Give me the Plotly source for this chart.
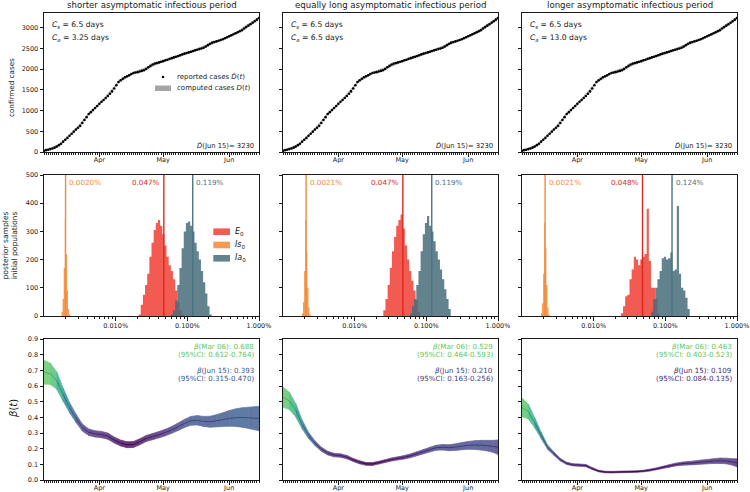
import numpy as np
import pandas as pd
import plotly.graph_objects as go
from plotly.subplots import make_subplots
from plotly.colors import sample_colorscale, unlabel_rgb

FONT = "DejaVu Sans"
W, H = 750, 492
INK = "#1a1a1a"
TICK = 6.5

# ------------------------------------------------------------------ data
panel_titles = ["shorter asymptomatic infectious period",
                "equally long asymptomatic infectious period",
                "longer asymptomatic infectious period"]
cs_days = [6.5, 6.5, 6.5]
ca_days = [3.25, 6.5, 13.0]
final_reported = [3230, 3230, 3230]

case_dates = pd.date_range("2020-03-06", "2020-06-15", freq="D")
reported_cases = [30, 45, 55, 70, 85, 105, 130, 165, 200, 250,
                  295, 340, 390, 440, 490, 540, 585, 630, 700, 770,
                  840, 917, 960, 1010, 1060, 1110, 1160, 1210, 1255, 1300,
                  1350, 1404, 1460, 1530, 1610, 1686, 1730, 1765, 1800, 1825,
                  1850, 1880, 1905, 1915, 1925, 1940, 1955, 1970, 2000, 2040,
                  2075, 2109, 2130, 2145, 2160, 2175, 2190, 2210, 2225, 2245,
                  2262, 2280, 2295, 2312, 2330, 2353, 2370, 2385, 2400, 2415,
                  2433, 2450, 2465, 2480, 2495, 2513, 2540, 2575, 2610, 2635,
                  2650, 2665, 2680, 2700, 2717, 2740, 2765, 2790, 2815, 2838,
                  2862, 2885, 2910, 2935, 2975, 3010, 3045, 3080, 3115, 3150,
                  3190, 3230]
computed_dates = pd.to_datetime(["2020-03-06", "2020-03-13", "2020-03-20", "2020-03-27",
                                 "2020-04-03", "2020-04-10", "2020-04-17", "2020-04-24",
                                 "2020-05-01", "2020-05-08", "2020-05-15", "2020-05-22",
                                 "2020-05-29", "2020-06-05", "2020-06-12", "2020-06-15"])
computed_low = [10, 140, 460, 885, 1225, 1650, 1875, 2010, 2160, 2280, 2400, 2540, 2685, 2850, 3080, 3195]
computed_high = [50, 190, 520, 945, 1290, 1715, 1935, 2070, 2220, 2345, 2465, 2610, 2750, 2920, 3150, 3265]

# initial-population posterior histograms (log10 of percent bin start, counts)
hist_step = 0.03
is0_step = 0.015
e0_log_start = [-1.68, -1.60, -1.62]
ia0_log_start = [-1.23, -1.23, -1.20]
is0_log_start = [-2.755, -2.735, -2.735]
e0_counts_1 = [5, 40, 75, 110, 150, 210, 260, 305, 330, 340, 320, 290, 250, 210, 180, 160, 130, 90, 50, 20, 5]
e0_counts_2 = [20, 60, 110, 170, 230, 280, 320, 340, 360, 310, 250, 200, 160, 125, 90, 55, 15]
e0_counts_3 = [10, 35, 70, 75, 130, 165, 210, 200, 180, 200, 210, 220, 380, 195, 100, 100, 60, 10]
ia0_counts_1 = [5, 20, 55, 110, 170, 240, 300, 330, 335, 320, 300, 260, 230, 200, 160, 120, 80, 35, 5]
ia0_counts_2 = [10, 35, 60, 110, 160, 230, 290, 330, 355, 320, 300, 265, 230, 200, 165, 130, 95, 60, 25]
ia0_counts_3 = [15, 60, 100, 130, 160, 205, 210, 200, 205, 225, 160, 165, 390, 150, 100, 90, 65, 25]
is0_counts_1 = [15, 60, 170, 345, 220, 90, 25, 5]
is0_counts_2 = [10, 50, 160, 340, 230, 100, 30, 5]
is0_counts_3 = [10, 45, 150, 330, 240, 110, 30, 5]
e0_median = [0.047, 0.047, 0.048]
is0_median = [0.0020, 0.0021, 0.0021]
ia0_median = [0.119, 0.119, 0.124]

# beta(t) posterior
beta_dates = list(pd.date_range("2020-03-06", periods=34, freq="3D")) + [pd.Timestamp("2020-06-15")]
beta_med_1 = [0.688, 0.678, 0.635, 0.545, 0.462, 0.395, 0.335, 0.305, 0.294, 0.290, 0.280, 0.255,
              0.236, 0.225, 0.227, 0.244, 0.265, 0.277, 0.289, 0.303, 0.320, 0.340, 0.361, 0.378,
              0.381, 0.374, 0.372, 0.378, 0.385, 0.393, 0.398, 0.399, 0.397, 0.394, 0.393]
beta_lo_1 = [0.612, 0.610, 0.580, 0.503, 0.429, 0.368, 0.312, 0.284, 0.274, 0.270, 0.260, 0.236,
             0.217, 0.206, 0.208, 0.225, 0.246, 0.257, 0.269, 0.282, 0.298, 0.316, 0.335, 0.350,
             0.351, 0.342, 0.337, 0.339, 0.341, 0.343, 0.342, 0.337, 0.329, 0.320, 0.315]
beta_hi_1 = [0.764, 0.746, 0.690, 0.587, 0.495, 0.422, 0.358, 0.326, 0.314, 0.310, 0.300, 0.274,
             0.255, 0.244, 0.246, 0.263, 0.284, 0.297, 0.309, 0.324, 0.342, 0.364, 0.387, 0.406,
             0.411, 0.406, 0.407, 0.417, 0.429, 0.443, 0.454, 0.461, 0.465, 0.468, 0.470]
beta_med_2 = [0.529, 0.505, 0.445, 0.355, 0.285, 0.235, 0.197, 0.172, 0.159, 0.156, 0.146, 0.128,
              0.113, 0.103, 0.102, 0.111, 0.121, 0.131, 0.138, 0.145, 0.155, 0.168, 0.181, 0.194,
              0.206, 0.209, 0.206, 0.210, 0.216, 0.221, 0.223, 0.222, 0.219, 0.214, 0.210]
beta_lo_2 = [0.464, 0.450, 0.403, 0.327, 0.265, 0.220, 0.184, 0.160, 0.148, 0.145, 0.135, 0.118,
             0.103, 0.094, 0.093, 0.102, 0.112, 0.121, 0.128, 0.134, 0.143, 0.155, 0.167, 0.179,
             0.190, 0.191, 0.187, 0.189, 0.193, 0.196, 0.195, 0.191, 0.185, 0.175, 0.163]
beta_hi_2 = [0.593, 0.560, 0.487, 0.383, 0.305, 0.250, 0.210, 0.184, 0.170, 0.167, 0.157, 0.138,
             0.123, 0.112, 0.111, 0.120, 0.130, 0.141, 0.148, 0.156, 0.167, 0.181, 0.195, 0.209,
             0.222, 0.227, 0.225, 0.231, 0.239, 0.246, 0.251, 0.253, 0.253, 0.253, 0.256]
beta_med_3 = [0.463, 0.437, 0.365, 0.285, 0.210, 0.168, 0.130, 0.106, 0.097, 0.095, 0.092, 0.073,
              0.057, 0.051, 0.050, 0.051, 0.052, 0.053, 0.054, 0.057, 0.063, 0.071, 0.080, 0.089,
              0.098, 0.104, 0.107, 0.110, 0.114, 0.117, 0.121, 0.123, 0.121, 0.115, 0.109]
beta_lo_3 = [0.403, 0.390, 0.333, 0.265, 0.196, 0.158, 0.122, 0.099, 0.090, 0.088, 0.085, 0.067,
             0.052, 0.046, 0.045, 0.046, 0.047, 0.048, 0.049, 0.052, 0.057, 0.065, 0.073, 0.081,
             0.089, 0.094, 0.096, 0.098, 0.101, 0.103, 0.106, 0.106, 0.103, 0.094, 0.084]
beta_hi_3 = [0.523, 0.484, 0.397, 0.305, 0.224, 0.178, 0.138, 0.113, 0.104, 0.102, 0.099, 0.079,
             0.062, 0.056, 0.055, 0.056, 0.057, 0.058, 0.059, 0.062, 0.069, 0.077, 0.087, 0.097,
             0.107, 0.114, 0.118, 0.122, 0.127, 0.131, 0.136, 0.140, 0.139, 0.136, 0.135]

month_ticks = ["2020-04-01", "2020-05-01", "2020-06-01"]
month_labels = ["Apr", "May", "Jun"]
pct_ticks = [0.01, 0.1, 1]
pct_labels = ["0.010%", "0.100%", "1.000%"]

# ------------------------------------------------------------------ styles
E0_FILL, E0_LINE = "rgba(238,62,50,0.85)", "#e0261c"
IS0_FILL, IS0_LINE = "rgba(245,135,50,0.85)", "#f28a3a"
IA0_FILL, IA0_LINE = "rgba(70,108,122,0.85)", "#4a7483"

col_left = [44, 283, 522]
col_w = 215
row_top = [13, 175, 339]
row_h = [139, 141, 141]

fig = make_subplots(rows=3, cols=3)


def idx(r, c):
    return (r - 1) * 3 + c


def xr(i):
    return "x" if i == 1 else f"x{i}"


def yr(i):
    return "y" if i == 1 else f"y{i}"


def dom(r, c, px, py):
    # px is measured within column-1 frame (local offset from col_left[0])
    return (px - 44) / col_w, 1 - (py - row_top[r - 1]) / row_h[r - 1]


def text_ann(r, c, px, py, text, size, color, xanchor, yanchor="middle"):
    i = idx(r, c)
    x, y = dom(r, c, px, py)
    fig.add_annotation(xref=f"{xr(i)} domain", yref=f"{yr(i)} domain", x=x, y=y,
                       text=text, showarrow=False, xanchor=xanchor, yanchor=yanchor,
                       font=dict(family=FONT, size=size, color=color))


def viridis(t):
    return unlabel_rgb(sample_colorscale("Viridis", [min(max(t, 0), 1)])[0])


def rgb(c):
    return "rgb(%d,%d,%d)" % tuple(int(round(v)) for v in c)


# ------------------------------------------------------------------ row 1
for c in range(1, 4):
    fig.add_trace(go.Scatter(
        x=list(computed_dates) + list(computed_dates[::-1]),
        y=computed_high + computed_low[::-1], fill="toself",
        fillcolor="rgba(140,140,140,0.6)", line=dict(width=0), mode="lines",
        hoverinfo="skip"), row=1, col=c)
    fig.add_trace(go.Scatter(x=case_dates, y=reported_cases, mode="markers",
                             marker=dict(color="black", size=2.6)), row=1, col=c)
    text_ann(1, c, 50, 25, f"<i>C<sub>s</sub></i> = {cs_days[c-1]} days", 7.6, INK, "left")
    text_ann(1, c, 50, 38.3, f"<i>C<sub>a</sub></i> = {ca_days[c-1]} days", 7.6, INK, "left")
    text_ann(1, c, 256, 145.5, f"<i>D\u0302</i>(Jun 15)= {final_reported[c-1]}", 6.8, INK, "right")
    fig.add_annotation(xref="paper", yref="paper", x=(col_left[c-1] + col_w / 2) / W,
                       y=1 - 5 / H, text=panel_titles[c-1], showarrow=False,
                       font=dict(family=FONT, size=8.6, color=INK), xanchor="center", yanchor="middle")

# legend of row 1 (panel 1)
x0, y0 = dom(1, 1, 161.7, 75.7)
x1, y1 = dom(1, 1, 164.3, 78.3)
fig.add_shape(type="circle", xref="x domain", yref="y domain", x0=x0, x1=x1, y0=y1, y1=y0,
              fillcolor="black", line_width=0)
x0, y0 = dom(1, 1, 155, 85.5)
x1, y1 = dom(1, 1, 171, 91)
fig.add_shape(type="rect", xref="x domain", yref="y domain", x0=x0, x1=x1, y0=y1, y1=y0,
              fillcolor="#a6a6a6", line_width=0)
text_ann(1, 1, 175, 77, "reported cases <i>D\u0302</i>(<i>t</i>)", 7.0, INK, "left")
text_ann(1, 1, 175, 88.3, "computed cases <i>D</i>(<i>t</i>)", 7.0, INK, "left")


# ------------------------------------------------------------------ row 2
def step_xy(log_start, step, counts):
    edges = 10 ** (log_start + step * np.arange(len(counts) + 1))
    x = np.concatenate([[edges[0]], edges[:-1], [edges[-1]]])
    y = [0] + list(counts) + [0]
    return x, y


e0_all = [e0_counts_1, e0_counts_2, e0_counts_3]
ia0_all = [ia0_counts_1, ia0_counts_2, ia0_counts_3]
is0_all = [is0_counts_1, is0_counts_2, is0_counts_3]
for c in range(1, 4):
    for start, step, counts, fc in [(e0_log_start[c-1], hist_step, e0_all[c-1], E0_FILL),
                                     (is0_log_start[c-1], is0_step, is0_all[c-1], IS0_FILL),
                                     (ia0_log_start[c-1], hist_step, ia0_all[c-1], IA0_FILL)]:
        hx, hy = step_xy(start, step, counts)
        fig.add_trace(go.Scatter(x=hx, y=hy, mode="lines", line=dict(width=0, shape="hv"),
                                 fill="toself", fillcolor=fc), row=2, col=c)
    i = idx(2, c)
    for med, lc, side in [(e0_median[c-1], E0_LINE, "right"),
                          (is0_median[c-1], IS0_LINE, "left"),
                          (ia0_median[c-1], IA0_LINE, "left")]:
        fig.add_trace(go.Scatter(x=[med, med], y=[0, 500], mode="lines",
                                 line=dict(color=lc, width=1.4)), row=2, col=c)
        label = f"{med:.4f}%" if med < 0.01 else f"{med:.3f}%"
        fig.add_annotation(xref=xr(i), yref=f"{yr(i)} domain", x=np.log10(med),
                           y=dom(2, c, 0, 182.7)[1], text=label, showarrow=False,
                           xanchor="left" if side == "left" else "right",
                           xshift=1.5 if side == "left" else -1.5, yanchor="middle",
                           font=dict(family=FONT, size=7.2, color=lc))

# legend of row 2 (panel 1)
for py, fc, lab in [(231.7, E0_FILL, "<i>E</i><sub>0</sub>"),
                    (245.0, IS0_FILL, "<i>Is</i><sub>0</sub>"),
                    (258.3, IA0_FILL, "<i>Ia</i><sub>0</sub>")]:
    x0, y0 = dom(2, 1, 213.3, py - 3.3)
    x1, y1 = dom(2, 1, 230, py + 3.3)
    fig.add_shape(type="rect", xref="x4 domain", yref="y4 domain", x0=x0, x1=x1, y0=y1, y1=y0,
                  fillcolor=fc, line_width=0)
    text_ann(2, 1, 233, py, lab, 8.0, INK, "left")

# ------------------------------------------------------------------ row 3
beta_sets = [(beta_med_1, beta_lo_1, beta_hi_1), (beta_med_2, beta_lo_2, beta_hi_2),
             (beta_med_3, beta_lo_3, beta_hi_3)]
for c in range(1, 4):
    med, lo, hi = beta_sets[c-1]
    mmin, mmax = min(med), max(med)

    def tval(v):
        return 0.75 * (v - mmin) / (mmax - mmin)

    n = len(beta_dates)
    for k in range(n - 1):
        col = viridis(tval((med[k] + med[k + 1]) / 2))
        band = tuple(255 * 0.2 + v * 0.8 for v in col)
        fig.add_trace(go.Scatter(
            x=[beta_dates[k], beta_dates[k + 1], beta_dates[k + 1], beta_dates[k], beta_dates[k]],
            y=[hi[k], hi[k + 1], lo[k + 1], lo[k], hi[k]], mode="lines", fill="toself",
            fillcolor=rgb(band), line=dict(width=0.7, color=rgb(band))), row=3, col=c)
    for k in range(n - 1):
        col = viridis(tval((med[k] + med[k + 1]) / 2))
        dark = tuple(v * 0.85 for v in col)
        fig.add_trace(go.Scatter(x=[beta_dates[k], beta_dates[k + 1]], y=[med[k], med[k + 1]],
                                 mode="lines", line=dict(width=0.9, color=rgb(dark))),
                      row=3, col=c)
    c_start = rgb(viridis(tval(med[0])))
    c_end = rgb(viridis(tval(med[-1])))
    text_ann(3, c, 256, 346, f"<i>β</i>(Mar 06): {med[0]:.3f}", 7.1, c_start, "right")
    text_ann(3, c, 256, 354.5, f"(95%CI: {lo[0]:.3f}-{hi[0]:.3f})", 7.1, c_start, "right")
    text_ann(3, c, 256, 370, f"<i>β</i>(Jun 15): {med[-1]:.3f}", 7.1, c_end, "right")
    text_ann(3, c, 256, 378.5, f"(95%CI: {lo[-1]:.3f}-{hi[-1]:.3f})", 7.1, c_end, "right")

# ------------------------------------------------------------------ axes
common = dict(showline=True, mirror=True, linecolor=INK, linewidth=1, ticks="outside",
              ticklen=3.5, tickwidth=0.9, tickcolor=INK, showgrid=False, zeroline=False,
              automargin=False, tickfont=dict(family=FONT, size=TICK, color=INK))
minor_log = [m * 10.0 ** e for e in (-3, -2, -1) for m in range(2, 10)]
for r in range(1, 4):
    for c in range(1, 4):
        i = idx(r, c)
        xa = "xaxis" if i == 1 else f"xaxis{i}"
        ya = "yaxis" if i == 1 else f"yaxis{i}"
        xd = [col_left[c-1] / W, (col_left[c-1] + col_w) / W]
        yd = [1 - (row_top[r-1] + row_h[r-1]) / H, 1 - row_top[r-1] / H]
        if r == 2:
            xspec = dict(common, type="log", range=[-3, 0], tickvals=pct_ticks, ticktext=pct_labels,
                         minor=dict(tickmode="array", tickvals=minor_log, ticks="outside",
                                    ticklen=2, tickwidth=0.7, tickcolor=INK))
        else:
            xspec = dict(common, type="date", range=["2020-03-06", "2020-06-15"],
                         tickvals=month_ticks, ticktext=month_labels, ticklabelstandoff=-2,
                         minor=dict(ticks="outside", ticklen=2, tickwidth=0.6, tickcolor=INK,
                                    dtick=86400000.0, tick0="2020-03-06"))
        if r == 1:
            yspec = dict(common, range=[0, 3350], tickvals=list(range(0, 3001, 500)))
        elif r == 2:
            yspec = dict(common, range=[0, 500], tickvals=list(range(0, 501, 100)))
        else:
            yspec = dict(common, range=[0, 0.9], tickvals=[k / 10 for k in range(10)],
                         tickformat=".1f")
        yspec["showticklabels"] = (c == 1)
        fig.update_layout({xa: dict(xspec, domain=xd), ya: dict(yspec, domain=yd)})

# y-axis labels
for py, px, text, size in [(88, 12, "confirmed cases", 7.2),
                           (245.5, 10, "posterior samples<br>initial populations", 7.6),
                           (409, 13, "<i>β</i>(<i>t</i>)", 10)]:
    fig.add_annotation(xref="paper", yref="paper", x=px / W, y=1 - py / H, text=text,
                       textangle=-90, showarrow=False, xanchor="center", yanchor="middle",
                       font=dict(family=FONT, size=size, color=INK))

fig.update_layout(width=W, height=H, margin=dict(l=0, r=0, t=0, b=0), showlegend=False,
                  plot_bgcolor="white", paper_bgcolor="white", hovermode=False)
fig.write_html("out.html", config={"displayModeBar": False},
               post_script="document.body.style.margin='0';document.body.style.overflow='hidden';")
